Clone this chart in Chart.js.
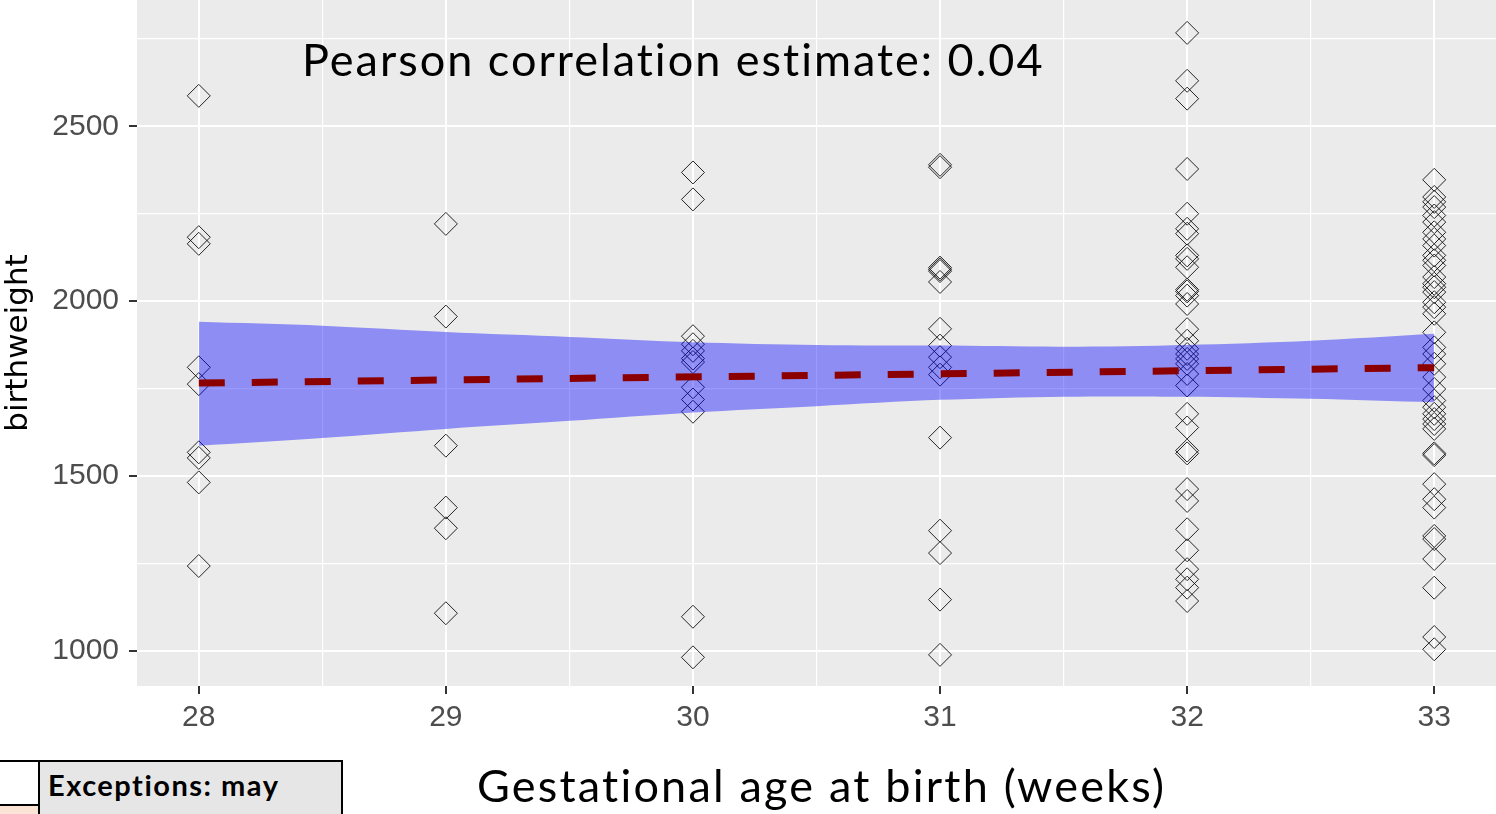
<!DOCTYPE html>
<html>
<head>
    <title>Birthweight by gestational age</title>
    <style>
        body {
            margin: 0;
            background: #fff;
            overflow: hidden;
        }

        .wrap {
            position: relative;
            width: 1496px;
            height: 814px;
            overflow: hidden;
        }

        #scatter {
            position: absolute;
            left: 0;
            top: 0;
        }

        .big-text {
            position: absolute;
            font-family: Lato, sans-serif;
            font-size: 45px;
            line-height: 45px;
            letter-spacing: 2px;
            color: #000;
            white-space: nowrap;
        }

        #note { left: 302px; top: 37px; }
        #xTitle { left: 477px; top: 763px; letter-spacing: 2.2px; }

        /* little table from the slide, bottom left */
        .box {
            position: absolute;
            left: 0;
            top: 760px;
            width: 343px;
            height: 70px;
            border-top: 2px solid #000;
            border-right: 2px solid #000;
            box-sizing: border-box;
        }

        .box .cell-white {
            position: absolute;
            left: 0;
            top: 0;
            width: 38px;
            height: 42px;
            background: #fff;
            border-bottom: 2px solid #000;
        }

        .box .cell-pink {
            position: absolute;
            left: 0;
            top: 44px;
            width: 38px;
            height: 30px;
            background: #FBE4D5;
        }

        .box .cell-grey {
            position: absolute;
            left: 38px;
            top: 0;
            right: 0;
            height: 70px;
            background: #E7E6E6;
            border-left: 2px solid #000;
            font-family: Lato, sans-serif;
            font-weight: bold;
            font-size: 29px;
            letter-spacing: 1.5px;
            line-height: 29px;
            padding: 8px 0 0 8px;
            box-sizing: border-box;
        }
    </style>
</head>
<body>
<div class="wrap">
    <canvas id="scatter" width="1496" height="814"></canvas>
    <div class="big-text" id="note">Pearson correlation estimate: 0.04</div>
    <div class="big-text" id="xTitle">Gestational age at birth (weeks)</div>
    <div class="box">
        <div class="cell-white"></div>
        <div class="cell-pink"></div>
        <div class="cell-grey">Exceptions: may</div>
    </div>
</div>
<script src="https://cdn.jsdelivr.net/npm/chart.js"></script>
<script>
    // birthweight (g) observed at each week of gestation
    const weeks = [28, 29, 30, 31, 32, 33];
    const bw28 = [2587, 2183, 2164, 1811, 1763, 1568, 1552, 1482, 1243];
    const bw29 = [2221, 1956, 1587, 1410, 1351, 1108];
    const bw30 = [2368, 2291, 1900, 1877, 1858, 1836, 1826, 1754, 1719, 1684, 1098, 982];
    const bw31 = [2390, 2383, 2096, 2091, 2086, 2055, 1921, 1873, 1840, 1811, 1790,
                  1610, 1344, 1280, 1147, 989];
    const bw32 = [2767, 2630, 2579, 2378, 2250, 2207, 2193, 2131, 2121, 2097, 2033,
                  2028, 2016, 1992, 1920, 1887, 1864, 1849, 1835, 1821, 1792, 1759,
                  1678, 1639, 1573, 1565, 1463, 1429, 1348, 1288, 1234, 1205, 1181, 1143];
    const bw33 = [2347, 2298, 2284, 2269, 2245, 2226, 2197, 2178, 2159, 2131, 2117,
                  2102, 2069, 2050, 2040, 2026, 1997, 1983, 1964, 1911, 1868, 1849,
                  1821, 1783, 1749, 1716, 1697, 1678, 1663, 1649, 1635, 1565, 1560,
                  1477, 1434, 1410, 1329, 1320, 1263, 1181, 1040, 1005];
    const weightsByWeek = [bw28, bw29, bw30, bw31, bw32, bw33];

    // linear fit and its confidence band
    const fitX = [28, 33];
    const fitY = [1766, 1810];
    const bandX = [28, 28.5, 29, 29.5, 30, 30.5, 31, 31.5, 32, 32.5, 33];
    const bandUpper = [1941, 1930, 1912, 1898, 1883, 1875, 1873, 1870, 1875, 1887, 1907];
    const bandLower = [1587, 1609, 1635, 1658, 1682, 1700, 1718, 1727, 1727, 1721, 1711];

    // axis ticks: labelled ones plus the minor grid in between
    const xTickLabels = [28, 29, 30, 31, 32, 33];
    const xGrid = [28, 28.5, 29, 29.5, 30, 30.5, 31, 31.5, 32, 32.5, 33];
    const yTickLabels = [1000, 1500, 2000, 2500];
    const yGrid = [1000, 1250, 1500, 1750, 2000, 2250, 2500, 2750];

    const points = [];
    weeks.forEach((w, i) => {
        weightsByWeek[i].forEach(g => points.push({ x: w, y: g }));
    });
    const toXY = (xs, ys) => xs.map((x, i) => ({ x: x, y: ys[i] }));

    const panelBackground = {
        id: 'panelBackground',
        beforeDraw(chart) {
            const { ctx, chartArea: a } = chart;
            ctx.save();
            ctx.fillStyle = '#EBEBEB';
            ctx.fillRect(a.left, a.top, a.right - a.left, a.bottom - a.top);
            ctx.restore();
        }
    };

    const tickFont = { family: '"Liberation Sans", Arial, sans-serif', size: 30 };

    new Chart(document.getElementById('scatter'), {
        type: 'scatter',
        data: {
            datasets: [
                {
                    label: 'fit',
                    data: toXY(fitX, fitY),
                    showLine: true,
                    borderColor: '#8B0000',
                    borderWidth: 7,
                    borderDash: [26, 27],
                    borderCapStyle: 'butt',
                    pointRadius: 0,
                    order: 0
                },
                {
                    label: 'upper',
                    data: toXY(bandX, bandUpper),
                    showLine: true,
                    borderColor: 'rgba(0,0,0,0)',
                    pointRadius: 0,
                    tension: 0.3,
                    fill: '+1',
                    backgroundColor: 'rgba(0, 0, 255, 0.4)',
                    order: 1
                },
                {
                    label: 'lower',
                    data: toXY(bandX, bandLower),
                    showLine: true,
                    borderColor: 'rgba(0,0,0,0)',
                    pointRadius: 0,
                    tension: 0.3,
                    fill: false,
                    order: 2
                },
                {
                    label: 'birthweight',
                    data: points,
                    pointStyle: 'rectRot',
                    pointRadius: 11.5,
                    pointHoverRadius: 11.5,
                    pointBorderWidth: 1,
                    pointBorderColor: 'rgba(15, 15, 15, 0.9)',
                    pointBackgroundColor: 'rgba(0,0,0,0)',
                    order: 3
                }
            ]
        },
        options: {
            responsive: false,
            animation: false,
            events: [],
            layout: { padding: 0, autoPadding: false },
            plugins: {
                legend: { display: false },
                tooltip: { enabled: false }
            },
            scales: {
                x: {
                    type: 'linear',
                    min: 27.75,
                    max: 33.25,
                    afterBuildTicks: axis => { axis.ticks = xGrid.map(v => ({ value: v })); },
                    afterFit: s => { s.height = 128; s.paddingLeft = 0; s.paddingRight = 0; },
                    ticks: {
                        autoSkip: false,
                        maxRotation: 0,
                        padding: 6,
                        color: '#4D4D4D',
                        font: tickFont,
                        callback: v => xTickLabels.includes(v) ? String(v) : ''
                    },
                    grid: {
                        color: '#FFFFFF',
                        lineWidth: c => xTickLabels.includes(c.tick.value) ? 2 : 1.2,
                        tickColor: c => xTickLabels.includes(c.tick.value) ? '#333333' : 'rgba(0,0,0,0)',
                        tickLength: 8,
                        tickWidth: 2
                    },
                    border: { display: false }
                },
                y: {
                    type: 'linear',
                    min: 900,
                    max: 2861,
                    afterBuildTicks: axis => { axis.ticks = yGrid.map(v => ({ value: v })); },
                    afterFit: s => { s.width = 137; s.paddingTop = 0; s.paddingBottom = 0; },
                    ticks: {
                        autoSkip: false,
                        padding: 10,
                        color: '#4D4D4D',
                        font: tickFont,
                        callback: v => yTickLabels.includes(v) ? String(v) : ''
                    },
                    grid: {
                        color: '#FFFFFF',
                        lineWidth: c => yTickLabels.includes(c.tick.value) ? 2 : 1.2,
                        tickColor: c => yTickLabels.includes(c.tick.value) ? '#333333' : 'rgba(0,0,0,0)',
                        tickLength: 8,
                        tickWidth: 2
                    },
                    border: { display: false },
                    title: {
                        display: true,
                        text: 'birthweight',
                        color: '#000',
                        padding: 0,
                        font: { family: '"DejaVu Sans", sans-serif', size: 31 }
                    }
                }
            }
        },
        plugins: [panelBackground]
    });
</script>
</body>
</html>
